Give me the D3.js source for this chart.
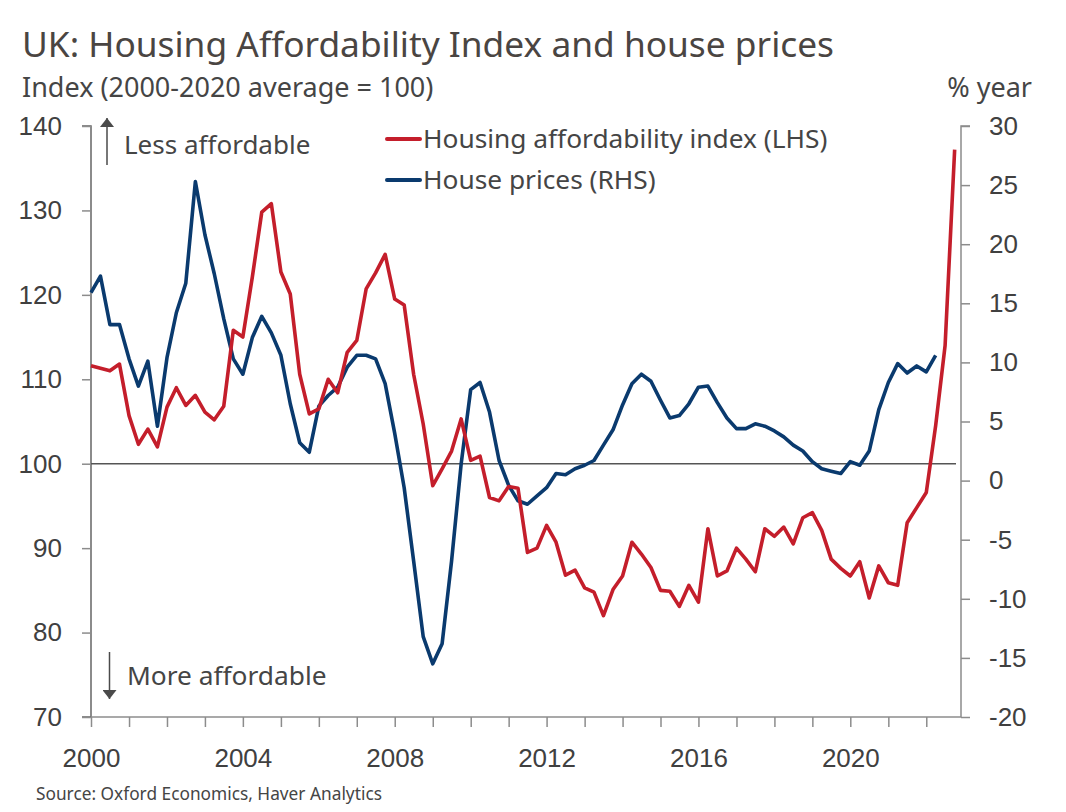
<!DOCTYPE html>
<html>
<head>
<meta charset="utf-8">
<script src="https://cdn.jsdelivr.net/npm/d3@7"></script>
<style>
  body { margin: 0; background: #fff; }
  svg { font-family: "Noto Sans", "Open Sans", sans-serif; }
  .tick text { fill: #404040; }
</style>
</head>
<body>
<svg width="1066" height="812"></svg>
<script>
// quarterly series, 2000 Q1 onwards
const startYear = 2000;

const affordability = [
  111.6, 111.3, 111.0, 111.8, 105.7, 102.3, 104.1, 102.0,
  106.7, 109.0, 106.9, 108.1, 106.1, 105.2, 106.8, 115.8,
  115.0, 122.1, 129.8, 130.8, 122.7, 120.1, 110.6, 105.9,
  106.5, 110.0, 108.4, 113.2, 114.6, 120.7, 122.6, 124.8,
  119.5, 118.8, 110.6, 104.7, 97.4, 99.4, 101.5, 105.3,
  100.4, 100.9, 96.0, 95.6, 97.3, 97.1, 89.5, 90.0,
  92.7, 90.7, 86.8, 87.4, 85.3, 84.8, 82.0, 85.1,
  86.7, 90.7, 89.3, 87.7, 85.0, 84.9, 83.1, 85.6,
  83.6, 92.3, 86.7, 87.3, 90.0, 88.7, 87.2, 92.3,
  91.4, 92.5, 90.5, 93.6, 94.2, 92.1, 88.7, 87.6,
  86.7, 88.4, 84.1, 87.9, 85.9, 85.6, 93.0, 94.8,
  96.6, 104.5, 114.0, 137.2
];

const housePrices = [
  15.9, 17.3, 13.2, 13.2, 10.3, 8.0, 10.1, 4.6,
  10.4, 14.2, 16.7, 25.3, 20.8, 17.5, 13.7, 10.3,
  9.0, 12.1, 13.9, 12.5, 10.6, 6.5, 3.2, 2.4,
  6.3, 7.2, 7.9, 9.6, 10.6, 10.6, 10.3, 8.2,
  4.0, -0.6, -6.8, -13.2, -15.5, -13.8, -6.8, 1.4,
  7.7, 8.3, 5.8, 1.7, -0.4, -1.7, -2.0, -1.3,
  -0.6, 0.6, 0.5, 1.0, 1.3, 1.7, 3.0, 4.3,
  6.4, 8.2, 9.0, 8.4, 6.8, 5.3, 5.5, 6.5,
  7.9, 8.0, 6.6, 5.3, 4.4, 4.4, 4.8, 4.6,
  4.2, 3.7, 3.0, 2.5, 1.6, 1.0, 0.8, 0.6,
  1.6, 1.3, 2.5, 6.0, 8.3, 9.9, 9.1, 9.7,
  9.2, 10.6
];

const leftTicks = [70, 80, 90, 100, 110, 120, 130, 140];
const rightTicks = [-20, -15, -10, -5, 0, 5, 10, 15, 20, 25, 30];
const yearLabels = [2000, 2004, 2008, 2012, 2016, 2020];

const seriesNames = ["Housing affordability index (LHS)", "House prices (RHS)"];
const red = "#c41e2b";
const blue = "#0a3a6e";
const textColor = "#454545";

const quarterDate = i => new Date(startYear + Math.floor(i / 4), (i % 4) * 3, 1);

const svg = d3.select("svg");
const plotLeft = 91, plotRight = 961, plotTop = 126, plotBottom = 717;

const x = d3.scaleTime()
  .domain([new Date(2000, 0, 1), new Date(2022, 11, 1)])
  .range([plotLeft, plotRight]);
const yL = d3.scaleLinear().domain([70, 140]).range([plotBottom, plotTop]);
const yR = d3.scaleLinear().domain([-20, 30]).range([plotBottom, plotTop]);

// title + axis captions
svg.append("text").attr("x", 22).attr("y", 57)
  .attr("font-size", 35.3).attr("fill", "#4a4542")
  .text("UK: Housing Affordability Index and house prices");
svg.append("text").attr("x", 22).attr("y", 97)
  .attr("font-size", 27).attr("fill", textColor)
  .text("Index (2000-2020 average = 100)");
svg.append("text").attr("x", 1032).attr("y", 97)
  .attr("font-size", 27).attr("fill", textColor).attr("text-anchor", "end")
  .text("% year");

// axes
const axisColor = "#8c8c8c";
const gL = svg.append("g").attr("transform", `translate(${plotLeft},0)`)
  .call(d3.axisLeft(yL).tickValues(leftTicks).tickSize(9).tickPadding(20));
const gR = svg.append("g").attr("transform", `translate(${plotRight},0)`)
  .call(d3.axisRight(yR).tickValues(rightTicks).tickSize(9).tickPadding(19)
    .tickFormat(d => String(d)));
const yearTicks = d3.range(2000, 2023).map(y => new Date(y, 0, 1));
const gX = svg.append("g").attr("transform", `translate(0,${plotBottom})`)
  .call(d3.axisBottom(x).tickValues(yearTicks).tickSize(10).tickPadding(22)
    .tickFormat(d => yearLabels.includes(d.getFullYear()) ? d.getFullYear() : ""));

[gL, gR, gX].forEach(g => {
  g.select(".domain").attr("stroke", axisColor).attr("stroke-width", 1.5);
  g.selectAll(".tick line").attr("stroke", axisColor).attr("stroke-width", 1.5);
  g.selectAll(".tick text").attr("font-size", 26).attr("font-family", null)
    .attr("fill", textColor);
});
gL.select(".domain").attr("d", `M-9,${plotTop}H0V${plotBottom}H-9`).attr("stroke", "#666");
gR.select(".domain").attr("d", `M9,${plotTop}H0V${plotBottom}`);
gX.select(".domain").attr("d", `M${plotLeft},0H${plotRight}`);
gR.selectAll(".tick text").attr("text-anchor", "start");

// 100 reference line
svg.append("line")
  .attr("x1", plotLeft).attr("x2", 956)
  .attr("y1", yL(100)).attr("y2", yL(100))
  .attr("stroke", "#555").attr("stroke-width", 1.5);

// series
const lineL = d3.line().x((d, i) => x(quarterDate(i))).y(d => yL(d));
const lineR = d3.line().x((d, i) => x(quarterDate(i))).y(d => yR(d));

svg.append("path").datum(housePrices)
  .attr("fill", "none").attr("stroke", blue).attr("stroke-width", 3.6)
  .attr("stroke-linejoin", "round").attr("d", lineR);
svg.append("path").datum(affordability)
  .attr("fill", "none").attr("stroke", red).attr("stroke-width", 3.6)
  .attr("stroke-linejoin", "round").attr("d", lineL);

// legend
const legend = svg.append("g");
[[red, 139, 148], [blue, 180, 189]].forEach(([c, ly, ty], i) => {
  legend.append("line").attr("x1", 387).attr("x2", 420)
    .attr("y1", ly).attr("y2", ly)
    .attr("stroke", c).attr("stroke-width", 4).attr("stroke-linecap", "round");
  legend.append("text").attr("x", 423).attr("y", ty)
    .attr("font-size", 26.3).attr("fill", textColor)
    .text(seriesNames[i]);
});

// affordability arrows
svg.append("defs").append("marker")
  .attr("id", "head").attr("viewBox", "0 0 9 14")
  .attr("refX", 9).attr("refY", 7)
  .attr("markerUnits", "userSpaceOnUse")
  .attr("markerWidth", 9).attr("markerHeight", 14)
  .attr("orient", "auto")
  .append("path").attr("d", "M0,0 L9,7 L0,14 Z").attr("fill", "#4a4a4a");

svg.append("line").attr("x1", 107).attr("x2", 107).attr("y1", 165).attr("y2", 118)
  .attr("stroke", "#4a4a4a").attr("stroke-width", 1.5).attr("marker-end", "url(#head)");
svg.append("text").attr("x", 124).attr("y", 154)
  .attr("font-size", 26).attr("fill", textColor).text("Less affordable");

svg.append("line").attr("x1", 109.5).attr("x2", 109.5).attr("y1", 652).attr("y2", 699)
  .attr("stroke", "#4a4a4a").attr("stroke-width", 1.5).attr("marker-end", "url(#head)");
svg.append("text").attr("x", 127).attr("y", 685)
  .attr("font-size", 26.3).attr("fill", textColor).text("More affordable");

// source
svg.append("text").attr("x", 36).attr("y", 800)
  .attr("font-size", 17.3).attr("fill", textColor)
  .text("Source: Oxford Economics, Haver Analytics");
</script>
</body>
</html>
